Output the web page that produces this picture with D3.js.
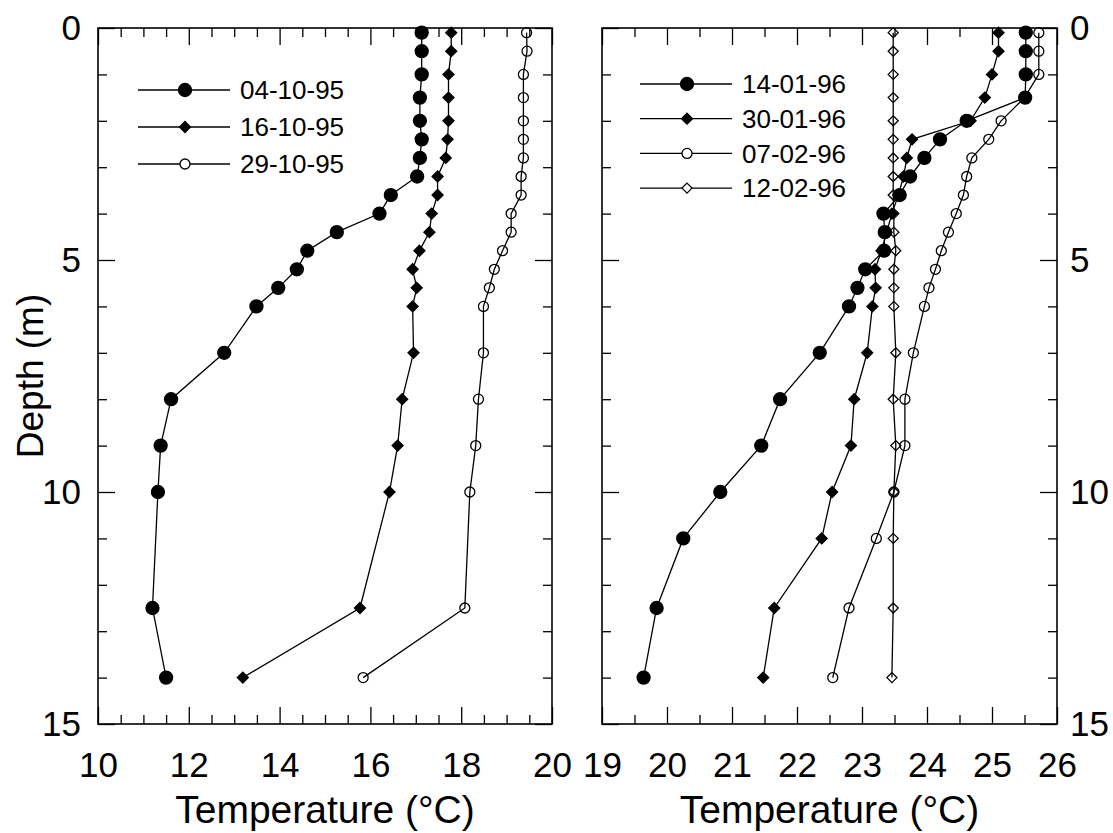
<!DOCTYPE html>
<html><head><meta charset="utf-8">
<script src="https://cdn.jsdelivr.net/npm/d3@7"></script>
<style>body{margin:0;background:#fff}svg{display:block}text{font-family:"Liberation Sans",Arial,sans-serif;fill:#000}</style>
</head><body>
<svg id="c" width="1113" height="833"></svg>
<script>
// ---- data ----
const depthsLeft = [0.1,0.5,1,1.5,2,2.4,2.8,3.2,3.6,4,4.4,4.8,5.2,5.6,6,7,8,9,10,12.5,14];
const t041095 = [17.13,17.13,17.13,17.09,17.09,17.13,17.09,17.03,16.45,16.20,15.26,14.61,14.38,13.97,13.49,12.78,11.61,11.38,11.32,11.20,11.50];
const t161095 = [17.78,17.78,17.72,17.72,17.72,17.70,17.66,17.48,17.48,17.35,17.30,17.08,16.93,17.02,16.93,16.95,16.70,16.60,16.42,15.77,13.19];
const t291095 = [19.44,19.45,19.37,19.37,19.37,19.37,19.37,19.32,19.32,19.10,19.10,18.91,18.73,18.62,18.49,18.49,18.38,18.32,18.19,18.08,15.84];
const depthsRight = [0.1,0.5,1,1.5,2,2.4,2.8,3.2,3.6,4,4.4,4.8,5.2,5.6,6,7,8,9,10,11,12.5,14];
const t140196 = [25.52,25.52,25.52,25.51,24.61,24.20,23.96,23.74,23.58,23.33,23.35,23.34,23.05,22.93,22.80,22.35,21.74,21.45,20.82,20.25,19.84,19.64];
const t300196 = [25.10,25.10,25.00,24.89,24.67,23.77,23.69,23.64,23.56,23.46,23.38,23.30,23.20,23.21,23.16,23.08,22.88,22.83,22.54,22.38,21.65,21.48];
const t070296 = [25.72,25.72,25.72,25.50,25.14,24.95,24.69,24.61,24.56,24.45,24.33,24.22,24.13,24.03,23.96,23.79,23.66,23.66,23.49,23.22,22.80,22.55];
const t120296 = [23.48,23.48,23.48,23.48,23.48,23.48,23.48,23.48,23.48,23.49,23.49,23.52,23.49,23.49,23.49,23.52,23.48,23.52,23.49,23.48,23.48,23.46];
const labelsLeft = ["04-10-95","16-10-95","29-10-95"];
const labelsRight = ["14-01-96","30-01-96","07-02-96","12-02-96"];
const xTicksLeft = [10,12,14,16,18,20];
const xTicksRight = [19,20,21,22,23,24,25,26];
const yTicks = [0,5,10,15];
const xTitle = "Temperature (°C)";
const yTitle = "Depth (m)";

// ---- layout ----
const svg = d3.select("#c");
const FONT = 35, XTFONT = 39, YTFONT = 37, LFONT = 26;
const yTop = 28, yBot = 724;
const y = d3.scaleLinear().domain([0,15]).range([yTop,yBot]);
const xL = d3.scaleLinear().domain([10,20]).range([98,552]);
const xR = d3.scaleLinear().domain([19,26]).range([602,1057]);

function marker(g, kind, cx, cy, fillOverride){
  if(kind==="fcircle"||kind==="ocircle"){
    g.append("circle").attr("cx",cx).attr("cy",cy).attr("r",kind==="fcircle"?6.5:5)
     .attr("fill",fillOverride|| (kind==="fcircle"?"#000":"none")).attr("stroke","#000").attr("stroke-width",1.3);
  } else {
    const h = kind==="fdiamond"?5.5:5;
    g.append("path").attr("d",`M${cx},${cy-h}L${cx+h},${cy}L${cx},${cy+h}L${cx-h},${cy}Z`)
     .attr("fill",fillOverride|| (kind==="fdiamond"?"#000":"none")).attr("stroke","#000").attr("stroke-width",1.3);
  }
}

function panel(x, majors, minorStep, leftLabels, rightLabels){
  const g = svg.append("g");
  const [x0,x1] = x.range();
  const d = x.domain();
  const minors = d3.range(d[0], d[1]+1e-9, minorStep).filter(v=>!majors.includes(v));
  const yMinors = d3.range(0,15.001,1).filter(v=>!yTicks.includes(v));
  const ax = (axis, tr) => {
    const a = g.append("g").attr("transform",tr).call(axis);
    a.select(".domain").remove();
    a.selectAll("line").attr("stroke","#000").attr("stroke-width",1.3);
    a.selectAll("text").attr("font-size",FONT).attr("font-family",'"Liberation Sans",Arial,sans-serif').attr("fill","#000");
    return a;
  };
  ax(d3.axisBottom(x).tickValues(majors).tickSize(-17).tickPadding(28).tickFormat(d3.format("d")), `translate(0,${yBot})`);
  ax(d3.axisBottom(x).tickValues(minors).tickSize(-9).tickFormat(""), `translate(0,${yBot})`);
  ax(d3.axisTop(x).tickValues(majors).tickSize(-17).tickFormat(""), `translate(0,${yTop})`);
  ax(d3.axisTop(x).tickValues(minors).tickSize(-9).tickFormat(""), `translate(0,${yTop})`);
  ax(d3.axisLeft(y).tickValues(yTicks).tickSize(-17).tickPadding(17).tickFormat(leftLabels?d3.format("d"):""), `translate(${x0},0)`);
  ax(d3.axisLeft(y).tickValues(yMinors).tickSize(-9).tickFormat(""), `translate(${x0},0)`);
  ax(d3.axisRight(y).tickValues(yTicks).tickSize(-17).tickPadding(13).tickFormat(rightLabels?d3.format("d"):""), `translate(${x1},0)`);
  ax(d3.axisRight(y).tickValues(yMinors).tickSize(-9).tickFormat(""), `translate(${x1},0)`);
  g.append("rect").attr("x",x0).attr("y",yTop).attr("width",x1-x0).attr("height",yBot-yTop)
    .attr("fill","none").attr("stroke","#000").attr("stroke-width",1.6);
  g.append("text").attr("x",(x0+x1)/2).attr("y",823).attr("text-anchor","middle")
    .attr("font-size",XTFONT).text(xTitle);
  return g;
}

const gL = panel(xL, xTicksLeft, 0.5, true, false);
const gR = panel(xR, xTicksRight, 0.5, false, true);

svg.append("text").attr("transform",`translate(43,${(yTop+yBot)/2}) rotate(-90)`)
  .attr("text-anchor","middle").attr("font-size",YTFONT).text(yTitle);

function series(g, x, depths, temps, kind){
  const pts = depths.map((dd,i)=>[x(temps[i]), y(dd)]);
  g.append("path").attr("d", d3.line()(pts)).attr("fill","none").attr("stroke","#000").attr("stroke-width",1.3);
  pts.forEach(p=>marker(g, kind, p[0], p[1]));
}
series(gL, xL, depthsLeft, t291095, "ocircle");
series(gL, xL, depthsLeft, t161095, "fdiamond");
series(gL, xL, depthsLeft, t041095, "fcircle");
series(gR, xR, depthsRight, t120296, "odiamond");
series(gR, xR, depthsRight, t070296, "ocircle");
series(gR, xR, depthsRight, t300196, "fdiamond");
series(gR, xR, depthsRight, t140196, "fcircle");

function legend(labels, kinds, lx0, lx1, mx, tx, y0, dy){
  labels.forEach((lab,i)=>{
    const yy = y0 + i*dy;
    const g = svg.append("g");
    g.append("line").attr("x1",lx0).attr("x2",lx1).attr("y1",yy).attr("y2",yy).attr("stroke","#000").attr("stroke-width",1.3);
    marker(g, kinds[i], mx, yy, kinds[i].startsWith("o")?"#fff":null);
    g.append("text").attr("x",tx).attr("y",yy).attr("dy","0.36em").attr("font-size",LFONT).text(lab);
  });
}
legend(labelsLeft, ["fcircle","fdiamond","ocircle"], 138, 230, 185, 240, 90, 37);
legend(labelsRight, ["fcircle","fdiamond","ocircle","odiamond"], 640, 732, 687, 742, 84, 34.7);
</script>
</body></html>
